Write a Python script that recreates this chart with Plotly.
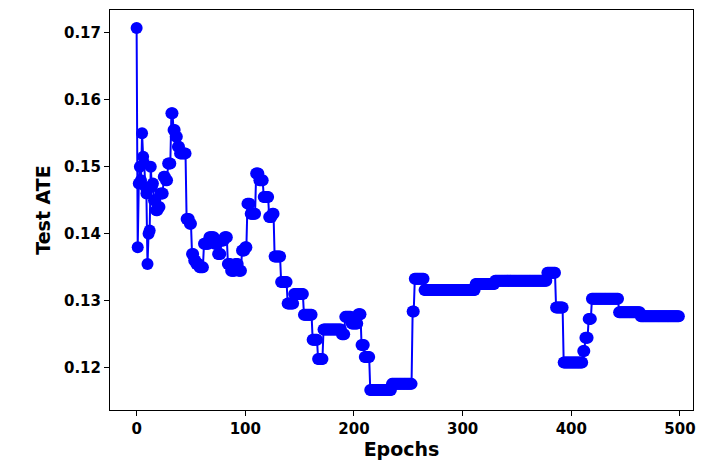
import numpy as np
import plotly.graph_objects as go

# test ATE per epoch, stored as runs: value held for `run_len` epochs
run_values = [0.1707, 0.138, 0.1475, 0.150, 0.148, 0.155, 0.1515, 0.1505, 0.147, 0.146,
              0.1355, 0.140, 0.1405, 0.150, 0.147, 0.1475, 0.145, 0.1435, 0.144, 0.146,
              0.1485, 0.148, 0.1505, 0.158, 0.1555, 0.1545, 0.153, 0.152, 0.1422, 0.1415,
              0.137, 0.136, 0.1355, 0.135, 0.1385, 0.1395, 0.1385, 0.137, 0.139, 0.1395,
              0.1355, 0.1345, 0.1355, 0.1345, 0.1375, 0.138, 0.1445, 0.143, 0.149, 0.148,
              0.1455, 0.1425, 0.143, 0.1366, 0.1328, 0.1296, 0.131, 0.1279, 0.1242, 0.1213,
              0.1257, 0.125, 0.1276, 0.1266, 0.128, 0.1234, 0.1216, 0.1167, 0.1176, 0.1284,
              0.1333, 0.1316, 0.1325, 0.133, 0.1342, 0.129, 0.1208, 0.1225, 0.1245, 0.1273,
              0.1303, 0.1283, 0.1277]
run_len = [1, 1, 1, 1, 1, 1, 1, 1, 1, 1,
           1, 1, 1, 1, 1, 1, 2, 2, 2, 3,
           2, 2, 3, 2, 2, 2, 2, 6, 3, 2,
           2, 2, 3, 4, 5, 5, 3, 3, 3, 3,
           3, 4, 3, 3, 3, 2, 3, 5, 3, 4,
           5, 3, 2, 6, 6, 6, 9, 8, 5, 5,
           17, 3, 6, 6, 3, 3, 5, 20, 19, 2,
           9, 47, 18, 48, 8, 7, 18, 2, 3, 3,
           25, 20, 36]

ate = np.repeat(run_values, run_len)
epochs = np.arange(len(ate))

fig = go.Figure(go.Scatter(
    x=epochs, y=ate, mode="lines+markers",
    line=dict(color="#0000ff", width=2),
    marker=dict(color="#0000ff", size=12),
))

axis_common = dict(showgrid=False, zeroline=False, showline=True, mirror=True,
                   linecolor="black", linewidth=1, ticks="outside", ticklen=5,
                   tickcolor="black", tickfont=dict(size=15, color="black"))
fig.update_xaxes(range=[-24.5, 512], tickvals=[0, 100, 200, 300, 400, 500],
                 ticktext=["<b>0</b>", "<b>100</b>", "<b>200</b>", "<b>300</b>",
                           "<b>400</b>", "<b>500</b>"],
                 title=dict(text="<b>Epochs</b>", font=dict(size=19, color="black"), standoff=4),
                 **axis_common)
fig.update_yaxes(range=[0.1137, 0.1734],
                 tickvals=[0.12, 0.13, 0.14, 0.15, 0.16, 0.17],
                 ticktext=["<b>0.12</b>", "<b>0.13</b>", "<b>0.14</b>", "<b>0.15</b>",
                           "<b>0.16</b>", "<b>0.17</b>"],
                 title=dict(text="<b>Test ATE</b>", font=dict(size=19, color="black"), standoff=8),
                 **axis_common)
fig.update_layout(width=697, height=460, plot_bgcolor="white", paper_bgcolor="white",
                  font=dict(family="DejaVu Sans"), showlegend=False,
                  margin=dict(l=102, r=12, t=2, b=58))
fig.write_html("out.html")
